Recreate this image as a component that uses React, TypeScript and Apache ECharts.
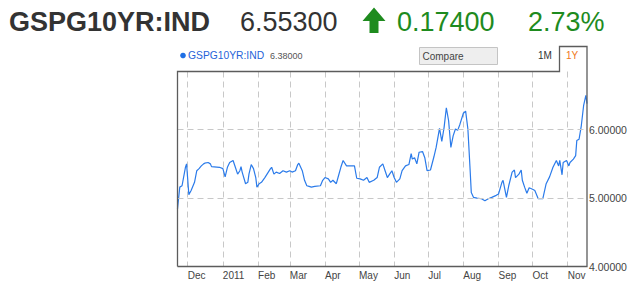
import React, { useEffect, useRef } from "react";
import * as echarts from "echarts";

const startDate = "2010-11-22";
const endDate = "2011-11-18";

const dates = [
  "2010-11-22", "2010-11-24", "2010-11-26", "2010-11-29", "2010-11-30", "2010-12-02", "2010-12-04", "2010-12-07",
  "2010-12-09", "2010-12-11", "2010-12-13", "2010-12-15", "2010-12-16", "2010-12-19", "2010-12-21", "2010-12-22",
  "2010-12-29", "2011-01-01", "2011-01-03", "2011-01-05", "2011-01-07", "2011-01-10", "2011-01-12", "2011-01-14",
  "2011-01-16", "2011-01-17", "2011-01-18", "2011-01-21", "2011-01-23", "2011-01-24", "2011-01-26", "2011-01-28",
  "2011-01-30", "2011-01-31", "2011-02-02", "2011-02-04", "2011-02-07", "2011-02-12", "2011-02-13", "2011-02-15",
  "2011-02-17", "2011-02-20", "2011-02-23", "2011-02-26", "2011-03-01", "2011-03-03", "2011-03-06", "2011-03-08",
  "2011-03-09", "2011-03-12", "2011-03-14", "2011-03-16", "2011-03-18", "2011-03-20", "2011-03-23", "2011-03-28",
  "2011-03-30", "2011-04-01", "2011-04-04", "2011-04-06", "2011-04-08", "2011-04-11", "2011-04-13", "2011-04-15",
  "2011-04-17", "2011-04-20", "2011-04-23", "2011-04-27", "2011-04-29", "2011-05-02", "2011-05-05", "2011-05-08",
  "2011-05-10", "2011-05-14", "2011-05-17", "2011-05-19", "2011-05-22", "2011-05-24", "2011-05-26", "2011-05-28",
  "2011-05-30", "2011-06-01", "2011-06-03", "2011-06-06", "2011-06-08", "2011-06-11", "2011-06-14", "2011-06-16",
  "2011-06-17", "2011-06-19", "2011-06-21", "2011-06-23", "2011-06-26", "2011-06-28", "2011-06-30", "2011-07-03",
  "2011-07-06", "2011-07-08", "2011-07-11", "2011-07-13", "2011-07-15", "2011-07-17", "2011-07-19", "2011-07-21",
  "2011-07-23", "2011-07-25", "2011-07-27", "2011-07-29", "2011-08-01", "2011-08-03", "2011-08-05", "2011-08-07",
  "2011-08-08", "2011-08-10", "2011-08-13", "2011-08-17", "2011-08-20", "2011-08-23", "2011-08-26", "2011-08-30",
  "2011-09-01", "2011-09-04", "2011-09-05", "2011-09-08", "2011-09-10", "2011-09-13", "2011-09-15", "2011-09-16",
  "2011-09-19", "2011-09-21", "2011-09-22", "2011-09-24", "2011-09-26", "2011-09-28", "2011-10-01", "2011-10-03",
  "2011-10-06", "2011-10-10", "2011-10-13", "2011-10-16", "2011-10-19", "2011-10-22", "2011-10-24", "2011-10-25",
  "2011-10-27", "2011-10-28", "2011-10-31", "2011-11-02", "2011-11-03", "2011-11-06", "2011-11-08", "2011-11-09",
  "2011-11-11", "2011-11-13", "2011-11-15", "2011-11-17", "2011-11-18",
];

const values = [
  4.84, 5.16, 5.18, 5.45, 5.50, 5.05, 5.11, 5.23,
  5.40, 5.43, 5.47, 5.50, 5.51, 5.52, 5.50, 5.46,
  5.45, 5.43, 5.31, 5.45, 5.52, 5.55, 5.45, 5.35,
  5.40, 5.46, 5.38, 5.21, 5.23, 5.35, 5.49, 5.43,
  5.30, 5.16, 5.21, 5.23, 5.30, 5.43, 5.45, 5.35,
  5.38, 5.36, 5.40, 5.38, 5.40, 5.38, 5.40, 5.49,
  5.51, 5.40, 5.26, 5.18, 5.17, 5.16, 5.17, 5.18,
  5.26, 5.30, 5.28, 5.23, 5.26, 5.21, 5.33, 5.45,
  5.55, 5.47, 5.47, 5.47, 5.29, 5.28, 5.26, 5.30,
  5.23, 5.26, 5.30, 5.45, 5.50, 5.40, 5.30, 5.35,
  5.40, 5.30, 5.23, 5.28, 5.40, 5.47, 5.49, 5.65,
  5.57, 5.59, 5.50, 5.67, 5.68, 5.59, 5.40, 5.41,
  5.60, 5.74, 6.02, 5.83, 6.03, 6.32, 6.13, 5.74,
  5.91, 6.01, 5.99, 6.08, 6.24, 6.27, 6.01, 5.40,
  5.08, 5.01, 5.00, 4.99, 4.96, 4.99, 5.01, 5.04,
  5.06, 5.23, 5.26, 5.01, 5.18, 5.38, 5.41, 5.30,
  5.35, 5.41, 5.26, 5.16, 5.07, 5.15, 5.13, 5.11,
  4.99, 4.99, 5.21, 5.31, 5.45, 5.55, 5.47, 5.55,
  5.34, 5.52, 5.55, 5.47, 5.52, 5.57, 5.62, 5.84,
  5.86, 6.06, 6.35, 6.50, 6.38,
];

const monthLabels = ["2011", "Feb", "Mar", "Apr", "May", "Jun", "Jul", "Aug", "Sep", "Oct", "Nov", "Dec"];
const yTickValues = [4, 5, 6];

const FONT = "'Liberation Sans', Arial, Helvetica, sans-serif";

function buildDays(): string[] {
  const out: string[] = [];
  const s = Date.UTC(+startDate.slice(0, 4), +startDate.slice(5, 7) - 1, +startDate.slice(8, 10));
  const e = Date.UTC(+endDate.slice(0, 4), +endDate.slice(5, 7) - 1, +endDate.slice(8, 10));
  for (let t = s; t <= e; t += 86400000) {
    out.push(new Date(t).toISOString().slice(0, 10));
  }
  return out;
}

export default function App() {
  const ref = useRef<HTMLDivElement>(null);

  useEffect(() => {
    if (!ref.current) return;
    const chart = echarts.init(ref.current, undefined, { renderer: "svg" });
    const days = buildDays();
    const lookup = new Map<string, number>();
    dates.forEach((d, i) => lookup.set(d, values[i]));
    const seriesData = days.map((d) => (lookup.has(d) ? lookup.get(d)! : null));
    const isMonthStart = (_i: number, v: string) => v.slice(8, 10) === "01";

    chart.setOption({
      animation: false,
      grid: { left: 177.5, right: 51, top: 71.5, bottom: 20.5, containLabel: false },
      xAxis: {
        type: "category",
        data: days,
        boundaryGap: false,
        axisLine: { show: false },
        axisTick: { show: false },
        axisLabel: {
          interval: isMonthStart,
          formatter: (v: string) => {
            const m = +v.slice(5, 7);
            return m === 1 ? v.slice(0, 4) : monthLabels[m - 1];
          },
          align: "left",
          margin: 4,
          fontSize: 10,
          fontFamily: FONT,
          color: "#444",
        },
        splitLine: {
          show: true,
          interval: isMonthStart,
          lineStyle: { color: "#c8c8c8", width: 1, type: [6, 4] },
        },
      },
      yAxis: {
        type: "value",
        position: "right",
        min: 4,
        max: 6.85,
        interval: 1,
        axisLine: { show: false },
        axisTick: { show: false },
        splitLine: { show: false },
        axisLabel: {
          margin: 2,
          fontSize: 10.5,
          fontFamily: FONT,
          color: "#444",
          verticalAlign: "middle",
          padding: [5, 0, 0, 0],
          formatter: (v: number) => (yTickValues.includes(Math.round(v * 1000) / 1000) ? v.toFixed(5) : ""),
        },
      },
      series: [
        {
          type: "line",
          z: 1,
          data: [],
          silent: true,
          markLine: {
            silent: true,
            symbol: "none",
            label: { show: false },
            lineStyle: { color: "#c8c8c8", width: 1, type: [6, 4] },
            data: yTickValues.filter((v) => v > 4).map((v) => ({ yAxis: v })),
          },
        },
        {
          type: "line",
          z: 3,
          data: seriesData,
          connectNulls: true,
          showSymbol: false,
          symbol: "none",
          lineStyle: { color: "#2b7bea", width: 1.2 },
        },
      ],
      graphic: [
        {
          type: "polyline",
          silent: true,
          z: 10,
          shape: {
            points: [
              [177.5, 266.5], [177.5, 71.5], [559.5, 71.5], [559.5, 46.5], [587, 46.5], [587, 266.5], [177.5, 266.5],
            ],
          },
          style: { stroke: "#5c5c5c", lineWidth: 1.3, fill: null },
        },
        {
          type: "text", x: 9, y: 21.5,
          style: { text: "GSPG10YR:IND", font: `bold 27px ${FONT}`, fill: "#333", verticalAlign: "middle" },
        },
        {
          type: "text", x: 240, y: 21.5,
          style: { text: "6.55300", font: `27px ${FONT}`, fill: "#333", verticalAlign: "middle" },
        },
        {
          type: "polygon",
          shape: { points: [[374, 7.5], [385.5, 21], [378.5, 21], [378.5, 33], [369.5, 33], [369.5, 21], [362.5, 21]] },
          style: { fill: "#1e8b1e" },
        },
        {
          type: "text", x: 397, y: 21.5,
          style: { text: "0.17400", font: `27px ${FONT}`, fill: "#1e8b1e", verticalAlign: "middle" },
        },
        {
          type: "text", x: 528, y: 21.5,
          style: { text: "2.73%", font: `27px ${FONT}`, fill: "#1e8b1e", verticalAlign: "middle" },
        },
        { type: "circle", shape: { cx: 183, cy: 55.5, r: 2.8 }, style: { fill: "#1f6fe5" } },
        {
          type: "text", x: 188, y: 55.5,
          style: { text: "GSPG10YR:IND", font: `10.3px ${FONT}`, fill: "#2563d9", verticalAlign: "middle" },
        },
        {
          type: "text", x: 270, y: 55.5,
          style: { text: "6.38000", font: `9px ${FONT}`, fill: "#555", verticalAlign: "middle" },
        },
        {
          type: "rect",
          shape: { x: 419.5, y: 47.5, width: 78, height: 17 },
          style: { fill: "#eeeeee", stroke: "#c4c4c4", lineWidth: 1 },
        },
        {
          type: "text", x: 422.5, y: 56,
          style: { text: "Compare", font: `10px ${FONT}`, fill: "#444", verticalAlign: "middle" },
        },
        {
          type: "text", x: 538, y: 55.5,
          style: { text: "1M", font: `10px ${FONT}`, fill: "#333", verticalAlign: "middle" },
        },
        {
          type: "text", x: 566, y: 55.5,
          style: { text: "1Y", font: `10px ${FONT}`, fill: "#f07820", verticalAlign: "middle" },
        },
      ],
    });

    return () => chart.dispose();
  }, []);

  return (
    <div
      ref={ref}
      style={{ position: "fixed", left: 0, top: 0, width: 638, height: 287, background: "#fff" }}
    />
  );
}
